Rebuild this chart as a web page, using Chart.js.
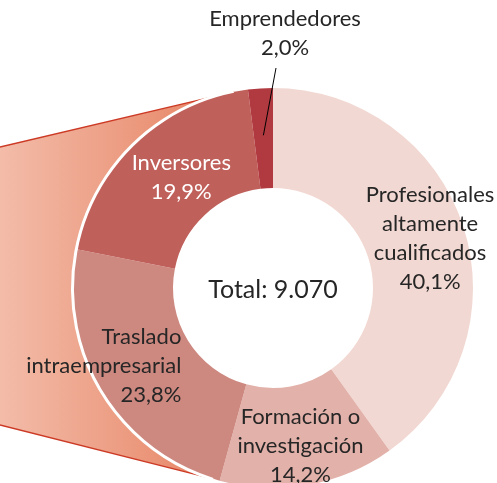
<!DOCTYPE html>
<html>
<head>
<meta charset="utf-8">
<script src="https://cdn.jsdelivr.net/npm/chart.js@4"></script>
<style>
html,body{margin:0;padding:0;background:#fff;overflow:hidden;}
#wrap{width:497px;height:500px;position:relative;}
</style>
</head>
<body>
<div id="wrap"><canvas id="c"></canvas></div>
<script>
// ---- data ----
const categories = ['Profesionales altamente cualificados', 'Formación o investigación', 'Traslado intraempresarial', 'Inversores', 'Emprendedores'];
const labelLines = [['Profesionales', 'altamente', 'cualificados'], ['Formación o', 'investigación'], ['Traslado', 'intraempresarial'], ['Inversores'], ['Emprendedores']];
const shares = [40.1, 14.2, 23.8, 19.9, 2.0];
const totalLabel = 'Total: 9.070';

// ---- styles ----
const sliceColors = ['#f2d8d2', '#e2b1a9', '#cd887f', '#c0605b', '#b13a40'];
const textColors = ['#262626', '#262626', '#262626', '#ffffff', '#262626'];
// label layout: radius (px from centre), alignment, extra offsets
const labelLayout = [
  {r: 165, align: 'center', dx: 0, dy: 1},
  {r: 157, align: 'center', dx: 0, dy: 3},
  {r: 150, align: 'right', dx: 36, dy: -1},
  {r: 152, align: 'center', dx: 12, dy: 1},
  {r: 256, align: 'center', dx: 12, dy: 1, leader: true}
];
const FONT = 'Lato, "Open Sans", sans-serif';
const FS = 22, LH = 29;

const fmt = v => v.toFixed(1).replace('.', ',') + '%';

const fanPlugin = {
  id: 'fan',
  beforeDatasetsDraw(chart) {
    const arc = chart.getDatasetMeta(0).data[0];
    if (!arc) return;
    const ctx = chart.ctx, cx = arc.x, cy = arc.y, R = arc.outerRadius;
    const a1 = -101.3 * Math.PI / 180, a2 = 107.4 * Math.PI / 180;
    const p1 = [cx + R * Math.cos(a1), cy + R * Math.sin(a1)];
    const p2 = [cx + R * Math.cos(a2), cy + R * Math.sin(a2)];
    const y1 = cy - 141, y2 = cy + 137;
    ctx.save();
    const g = ctx.createLinearGradient(0, 0, cx - R * 0.2, 0);
    g.addColorStop(0, '#f3bca9');
    g.addColorStop(1, '#e6805f');
    ctx.beginPath();
    ctx.moveTo(0, y1);
    ctx.lineTo(p1[0], p1[1]);
    ctx.arc(cx, cy, R, a1, a2, true);
    ctx.lineTo(0, y2);
    ctx.closePath();
    ctx.fillStyle = g;
    ctx.fill();
    ctx.strokeStyle = '#cc3a25';
    ctx.lineWidth = 1.3;
    ctx.beginPath();
    ctx.moveTo(0, y1); ctx.lineTo(p1[0], p1[1]);
    ctx.moveTo(0, y2); ctx.lineTo(p2[0], p2[1]);
    ctx.stroke();
    ctx.restore();
  },
  afterDatasetsDraw(chart) {
    const meta = chart.getDatasetMeta(0);
    const arc = meta.data[0];
    if (!arc) return;
    const ctx = chart.ctx, cx = arc.x, cy = arc.y, R = arc.outerRadius;
    const a1 = -101.3 * Math.PI / 180, a2 = 107.4 * Math.PI / 180;
    ctx.save();
    ctx.strokeStyle = '#ffffff';
    ctx.lineWidth = 3;
    ctx.beginPath();
    ctx.arc(cx, cy, R + 0.5, a1, a2, true);
    ctx.stroke();

    ctx.font = '25px ' + FONT;
    ctx.fillStyle = '#262626';
    ctx.textAlign = 'center';
    ctx.textBaseline = 'middle';
    ctx.fillText(totalLabel, cx, cy + 2);

    ctx.font = FS + 'px ' + FONT;
    meta.data.forEach((el, i) => {
      const L = labelLayout[i];
      const mid = (el.startAngle + el.endAngle) / 2;
      let ax = cx + L.r * Math.cos(mid);
      let ay = cy + L.r * Math.sin(mid);
      if (L.leader) {
        const rr = 153;
        const ex = cx + rr * Math.cos(mid), ey = cy + rr * Math.sin(mid);
        ctx.strokeStyle = '#000000';
        ctx.lineWidth = 1;
        ctx.beginPath();
        ctx.moveTo(cx + 3, cy - 220);
        ctx.lineTo(ex, ey);
        ctx.stroke();
        ax = cx + L.dx; ay = cy - L.r + L.dy;
      } else {
        ax += L.dx; ay += L.dy;
      }
      const lines = labelLines[i].concat([fmt(shares[i])]);
      ctx.fillStyle = textColors[i];
      ctx.textAlign = L.align;
      const top = ay - (lines.length - 1) * LH / 2;
      lines.forEach((t, k) => ctx.fillText(t, ax, top + k * LH));
    });
    ctx.restore();
  }
};

new Chart(document.getElementById('c'), {
  type: 'doughnut',
  data: {
    labels: categories,
    datasets: [{
      data: shares,
      backgroundColor: sliceColors,
      borderWidth: 0
    }]
  },
  options: {
    responsive: true,
    maintainAspectRatio: false,
    animation: false,
    cutout: '50%',
    layout: {padding: {left: 73, right: 24, top: 88, bottom: 12}},
    plugins: {legend: {display: false}, tooltip: {enabled: false}}
  },
  plugins: [fanPlugin]
});
</script>
</body>
</html>
